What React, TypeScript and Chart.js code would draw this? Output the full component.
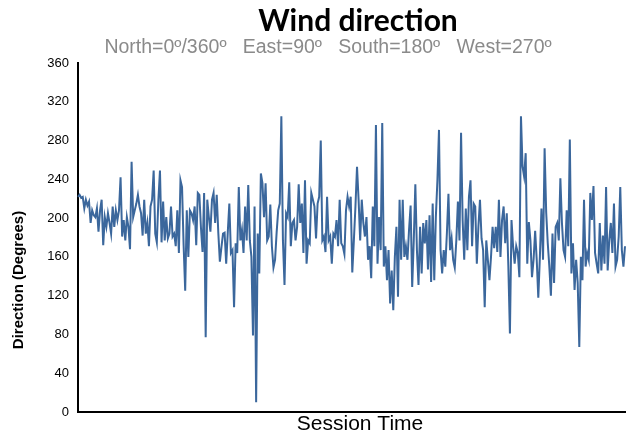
import React, { useEffect, useRef } from "react";
import { Chart, registerables } from "chart.js";

Chart.register(...registerables);

const chartTitle = "Wind direction";
const chartSubtitle = "North=0º/360º   East=90º   South=180º   West=270º";
const yAxisTitle = "Direction (Degrees)";
const xAxisTitle = "Session Time";
const yTicks = [0, 40, 80, 120, 160, 200, 240, 280, 320, 360];

const seg1 = [222, 224, 221, 222, 210, 219, 213, 217, 195, 208, 203, 201, 210, 186, 208, 219, 172, 201, 191, 205, 195, 184, 212, 191, 208, 198, 208, 242, 181, 198, 177, 201, 191, 168, 258, 201, 208, 215, 224, 212, 205, 182, 219];
const seg2 = [184, 195, 171, 212, 219, 249, 184, 175, 219, 249, 175, 217, 177, 201, 179, 184, 212, 181, 184, 171, 208, 164, 239, 232, 172, 125, 208, 160, 208, 205, 198, 212, 172, 226, 224, 190, 165, 226, 77, 219, 201, 186, 219, 226];
const seg3 = [195, 224, 185, 155, 170, 184, 185, 153, 185, 215, 164, 167, 108, 174, 164, 232, 177, 188, 164, 212, 177, 234, 177, 160, 79, 212, 10, 184, 143, 246, 236, 201, 236, 177, 181, 214, 171, 149, 157, 185, 208, 215, 305, 177, 131, 205];
const seg4 = [201, 237, 171, 195, 198, 177, 191, 235, 195, 215, 164, 239, 153, 177, 174, 226, 219, 212, 179, 215, 222, 280, 177, 181, 165, 222, 177, 181, 153, 184, 181, 198, 171, 219, 174, 171, 163, 208, 222, 212, 222, 144, 177, 212, 253];
const seg5 = [219, 177, 219, 195, 181, 201, 157, 171, 138, 212, 171, 296, 153, 201, 167, 298, 150, 171, 136, 167, 112, 146, 105, 160, 191, 119, 219, 157, 219, 160, 171, 157, 188, 213, 129, 177, 235, 167, 131, 191, 143, 195, 174, 198];
const seg6 = [147, 203, 134, 215, 136, 201, 239, 291, 167, 143, 167, 150, 184, 225, 167, 179, 157, 149, 177, 217, 177, 288, 198, 157, 210, 167, 222, 239, 171, 215, 212, 153, 191, 219, 179, 167, 108, 177, 157, 136, 160, 191, 169];
const seg7 = [191, 165, 219, 160, 198, 212, 174, 205, 150, 81, 198, 171, 153, 171, 164, 139, 305, 253, 243, 267, 153, 196, 177, 139, 157, 187, 157, 118, 160, 210, 157, 272, 206, 174, 150, 120, 184, 133, 191, 195, 177, 241, 195, 167];
const seg8 = [160, 208, 171, 281, 143, 174, 126, 157, 133, 67, 160, 136, 219, 150, 164, 157, 226, 198, 233, 164, 153, 143, 195, 146, 182, 153, 232, 146, 177, 195, 164, 215, 150, 157, 181, 232, 167, 150, 171];

const directionValues = [...seg1, ...seg2, ...seg3, ...seg4, ...seg5, ...seg6, ...seg7, ...seg8];
const sessionTime = directionValues.map((_, i) => String(i + 1));

const textPlugin = {
  id: "textOverlay",
  afterDraw(chart: any) {
    const ctx = chart.ctx;
    ctx.save();
    ctx.textAlign = "center";
    ctx.textBaseline = "middle";
    ctx.fillStyle = "#000";
    ctx.font = "bold 30px Lato";
    ctx.fillText(chartTitle, 358, 21);
    ctx.fillStyle = "#8a8a8a";
    ctx.font = '19.5px "Liberation Sans"';
    ctx.fillText(chartSubtitle, 328, 48);
    ctx.fillStyle = "#000";
    ctx.font = '21px "Liberation Sans"';
    ctx.fillText(xAxisTitle, 360, 424);
    ctx.translate(19, 280);
    ctx.rotate(-Math.PI / 2);
    ctx.font = 'bold 15px "Liberation Sans"';
    ctx.fillText(yAxisTitle, 0, 0);
    ctx.restore();
  },
};

export default function App() {
  const ref = useRef<HTMLCanvasElement>(null);
  useEffect(() => {
    const chart = new Chart(ref.current as HTMLCanvasElement, {
      type: "line",
      data: {
        labels: sessionTime,
        datasets: [
          {
            data: directionValues,
            borderColor: "#3b679c",
            borderWidth: 2,
            pointRadius: 0,
            tension: 0,
            fill: false,
          },
        ],
      },
      options: {
        animation: false,
        responsive: false,
        layout: { padding: { top: 63, right: 18, bottom: 22, left: 0 } },
        plugins: { legend: { display: false }, tooltip: { enabled: false }, title: { display: false } },
        scales: {
          x: {
            grid: { display: false },
            border: { display: true, color: "#000", width: 2 },
            ticks: { display: false },
            afterFit(scale: any) {
              scale.height = 0;
            },
          },
          y: {
            min: 0,
            max: 360,
            afterBuildTicks(scale: any) {
              scale.ticks = yTicks.map((v) => ({ value: v }));
            },
            grid: { display: false },
            border: { display: true, color: "#000", width: 2 },
            ticks: {
              color: "#000",
              padding: 1,
              font: { family: '"Liberation Sans"', size: 13 },
            },
            afterFit(scale: any) {
              scale.width = 78;
            },
          },
        },
      },
      plugins: [textPlugin],
    });
    return () => chart.destroy();
  }, []);
  return (
    <div style={{ position: "fixed", left: 0, top: 0, width: 643, height: 434, background: "#fff" }}>
      <canvas ref={ref} width={643} height={434} style={{ display: "block" }} />
    </div>
  );
}
